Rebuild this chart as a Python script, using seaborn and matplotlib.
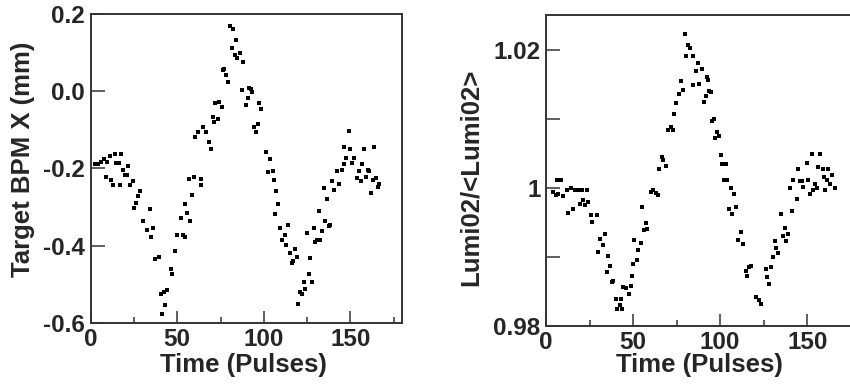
# BPM position and luminosity monitor vs time
import numpy as np
import pandas as pd
import matplotlib
matplotlib.use('Agg')
import matplotlib.pyplot as plt
from matplotlib.ticker import MultipleLocator, FixedLocator, FixedFormatter
import seaborn as sns

# ---- data -----------------------------------------------------------------
bpm_time = [2.6, 4.2, 6.1, 7.6, 9.0, 9.6, 10.9, 11.9, 12.8, 13.8, 14.8, 16.1,
            16.7, 17.7, 18.6, 20.0, 21.1, 21.5, 22.5, 24.4, 25.0, 26.4, 27.3,
            28.3, 30.2, 32.7, 34.1, 35.0, 36.0, 37.0, 39.3, 40.4, 41.2, 42.4,
            43.2, 43.9, 46.2, 47.0, 48.9, 49.7, 52.0, 53.4, 54.3, 54.7, 55.7,
            56.9, 57.6, 58.8, 59.8, 60.5, 61.7, 63.6, 64.0, 64.6, 66.5, 68.2,
            69.6, 70.4, 71.3, 71.7, 73.3, 74.4, 75.6, 76.2, 77.1, 78.3, 79.1,
            80.2, 81.4, 82.1, 83.3, 84.1, 84.8, 86.2, 87.2, 87.9, 89.6, 90.9,
            91.5, 92.5, 93.3, 94.4, 95.6, 96.7, 97.5, 98.5, 101.5, 102.5,
            103.3, 105.4, 105.9, 106.4, 107.1, 108.3, 109.5, 110.4, 112.2,
            113.1, 114.1, 115.1, 116.0, 117.0, 118.0, 118.9, 119.9, 120.9,
            121.9, 123.0, 123.9, 124.9, 125.9, 126.8, 128.0, 128.8, 129.7,
            130.7, 131.7, 132.6, 133.6, 134.6, 135.6, 136.5, 137.5, 138.4,
            139.4, 140.3, 142.3, 143.4, 145.2, 146.1, 146.3, 147.3, 149.4,
            150.0, 151.2, 152.3, 154.0, 155.0, 156.0, 156.9, 158.1, 159.1,
            160.0, 161.0, 162.0, 162.9, 163.9, 164.9, 165.8, 166.8]
bpm_x = [-0.188, -0.188, -0.184, -0.175, -0.223, -0.184, -0.167, -0.229,
         -0.242, -0.162, -0.186, -0.187, -0.244, -0.162, -0.203, -0.216,
         -0.218, -0.193, -0.244, -0.233, -0.303, -0.289, -0.272, -0.259,
         -0.336, -0.358, -0.306, -0.377, -0.354, -0.435, -0.429, -0.524,
         -0.576, -0.520, -0.554, -0.515, -0.459, -0.474, -0.414, -0.372,
         -0.328, -0.373, -0.378, -0.293, -0.315, -0.227, -0.336, -0.268,
         -0.223, -0.119, -0.106, -0.227, -0.244, -0.093, -0.106, -0.132,
         -0.149, -0.067, -0.080, -0.031, -0.071, -0.027, -0.041, 0.055,
         0.058, 0.041, 0.025, 0.169, 0.113, 0.160, 0.094, 0.133, 0.086,
         0.098, 0.003, 0.076, -0.035, -0.018, 0.009, 0.005, -0.001, -0.093,
         -0.105, -0.085, -0.031, -0.045, -0.158, -0.210, -0.175, -0.207,
         -0.231, -0.319, -0.259, -0.293, -0.354, -0.385, -0.372, -0.397,
         -0.346, -0.419, -0.444, -0.440, -0.409, -0.428, -0.550, -0.520,
         -0.524, -0.494, -0.511, -0.367, -0.472, -0.432, -0.494, -0.354,
         -0.389, -0.385, -0.311, -0.385, -0.363, -0.250, -0.337, -0.280,
         -0.350, -0.346, -0.233, -0.255, -0.207, -0.241, -0.203, -0.188,
         -0.145, -0.172, -0.102, -0.150, -0.186, -0.172, -0.225, -0.207,
         -0.232, -0.188, -0.150, -0.223, -0.203, -0.207, -0.263, -0.229,
         -0.145, -0.225, -0.249, -0.240]

lumi_time = [4.0, 5.6, 6.1, 7.1, 8.6, 10.0, 11.9, 12.8, 14.4, 15.7, 16.6,
             18.6, 19.5, 20.5, 21.4, 22.4, 23.3, 24.3, 25.6, 26.6, 29.1,
             30.0, 31.0, 32.9, 33.9, 34.8, 35.8, 36.7, 37.7, 38.7, 40.0,
             41.0, 42.5, 43.1, 43.8, 44.4, 45.7, 47.7, 48.6, 49.2, 50.1,
             50.6, 52.2, 52.6, 54.5, 55.3, 56.3, 57.2, 57.8, 60.3, 61.6,
             63.2, 64.4, 65.1, 66.5, 67.2, 68.7, 70.2, 71.8, 73.1, 73.7,
             74.6, 76.6, 77.5, 78.8, 79.8, 80.4, 81.3, 82.5, 84.4, 84.6,
             86.0, 87.3, 87.9, 89.8, 90.8, 91.7, 92.7, 93.1, 93.6, 94.6,
             95.5, 96.5, 96.9, 98.0, 99.4, 100.3, 101.3, 102.2, 103.2,
             104.2, 105.1, 106.1, 107.0, 108.0, 109.0, 110.5, 111.8, 113.1,
             114.7, 115.6, 116.6, 117.5, 120.4, 122.3, 123.3, 126.2, 127.0,
             127.8, 129.0, 130.4, 131.3, 132.3, 133.2, 135.2, 136.1, 137.3,
             138.0, 139.0, 139.9, 141.1, 142.0, 144.0, 144.9, 145.9, 146.8,
             147.8, 149.7, 150.7, 151.6, 152.6, 153.5, 154.5, 155.4, 156.4,
             157.4, 159.3, 159.8, 160.2, 161.2, 162.1, 163.1, 164.1, 166.0]
lumi_ratio = [0.99935, 0.99899, 1.00116, 0.99913, 1.00116, 0.99875, 0.99961,
              0.99639, 0.99995, 0.99697, 0.99961, 0.99961, 0.99769, 0.99961,
              0.99827, 0.99745, 0.99961, 0.99793, 0.99600, 0.99504, 0.99600,
              0.99071, 0.99254, 0.99167, 0.99336, 0.98772, 0.99013, 0.98869,
              0.98637, 0.98652, 0.98382, 0.98243, 0.98300, 0.98382, 0.98243,
              0.98565, 0.98541, 0.98459, 0.98575, 0.98724, 0.98893, 0.99239,
              0.98950, 0.99095, 0.99206, 0.99721, 0.99384, 0.99494, 0.99408,
              0.99940, 0.99960, 0.99930, 0.99890, 1.00274, 1.00440, 1.00400,
              1.00313, 1.00840, 1.00880, 1.00840, 1.01060, 1.01230, 1.01360,
              1.01550, 1.01410, 1.02230, 1.01900, 1.02070, 1.02020, 1.01900,
              1.01480, 1.01690, 1.01800, 1.01500, 1.01720, 1.01240, 1.01320,
              1.01600, 1.01560, 1.01400, 1.01380, 1.00960, 1.01000, 1.00720,
              1.00800, 1.00750, 1.00480, 1.00340, 1.00110, 1.00340, 1.00110,
              0.99690, 0.99990, 0.99620, 0.99910, 0.99720, 0.99240, 0.99360,
              0.99180, 0.98800, 0.98720, 0.98850, 0.98870, 0.98420, 0.98370,
              0.98310, 0.98820, 0.98700, 0.98600, 0.98850, 0.98990, 0.99230,
              0.99120, 0.99060, 0.99620, 0.99300, 0.99420, 0.99230, 0.99330,
              0.99990, 0.99660, 1.00110, 0.99840, 1.00270, 1.00100, 1.00100,
              1.00010, 1.00350, 1.00110, 0.99910, 1.00490, 0.99960, 1.00060,
              0.99990, 1.00300, 1.00490, 1.00270, 1.00160, 0.99960, 1.00110,
              1.00270, 1.00060, 1.00180, 0.99990]

# ---- style -------------------------------------------------------------------
sns.set_style('ticks')
plt.rcParams['font.family'] = ['Liberation Sans', 'DejaVu Sans']
plt.rcParams['font.weight'] = 'bold'
EDGE = '#333333'

fig = plt.figure(figsize=(8.5, 3.85), dpi=100)
ax1 = fig.add_axes([90.7 / 850, 1 - 323 / 385, 311.6 / 850, 309 / 385])
ax2 = fig.add_axes([546 / 850, 1 - 325.8 / 385, 313.5 / 850, 310.8 / 385])


def style_axes(ax):
    for s in ax.spines.values():
        s.set_linewidth(1.4)
        s.set_color(EDGE)
    ax.xaxis.set_major_locator(MultipleLocator(50))
    ax.xaxis.set_minor_locator(MultipleLocator(25))
    ax.tick_params(axis='x', which='major', direction='in', length=8.6,
                   width=1.1, color=EDGE, labelsize=17.5, pad=3.5)
    ax.tick_params(axis='x', which='minor', direction='in', length=4.3,
                   width=1.1, color=EDGE)
    ax.tick_params(axis='y', which='both', direction='in', length=10,
                   width=1.1, color=EDGE, labelsize=17.5, pad=4)
    ax.set_xlim(0, 180)


df_bpm = pd.DataFrame({'time': bpm_time, 'bpm': bpm_x})
df_lumi = pd.DataFrame({'time': lumi_time, 'lumi': lumi_ratio})

sns.scatterplot(data=df_bpm, x='time', y='bpm', ax=ax1, marker='s', s=5,
                color='black', linewidth=0)
sns.scatterplot(data=df_lumi, x='time', y='lumi', ax=ax2, marker='s', s=5,
                color='black', linewidth=0)

for ax in (ax1, ax2):
    style_axes(ax)

# left panel
ax1.set_ylim(-0.6, 0.2)
ax1.yaxis.set_major_locator(FixedLocator([-0.6, -0.4, -0.2, 0.0, 0.2]))
ax1.yaxis.set_major_formatter(FixedFormatter(['-0.6', '-0.4', '-0.2', '0.0', '0.2']))
ax1.set_xlabel('Time (Pulses)', fontsize=18.5, fontweight='bold', va='center')
ax1.set_ylabel('Target BPM X (mm)', fontsize=18.5, fontweight='bold', va='center')
ax1.xaxis.set_label_coords(0.49, -0.136)
ax1.yaxis.set_label_coords(-0.217, 0.53)

# right panel
ax2.set_ylim(0.98, 1.025)
ax2.yaxis.set_major_locator(FixedLocator([0.98, 1.0, 1.02]))
ax2.yaxis.set_major_formatter(FixedFormatter(['0.98', '1', '1.02']))
ax2.yaxis.set_minor_locator(FixedLocator([0.99, 1.01]))
ax2.set_xlabel('Time (Pulses)', fontsize=18.5, fontweight='bold', va='center')
ax2.set_ylabel('Lumi02/<Lumi02>', fontsize=18.5, fontweight='bold', va='center')
ax2.xaxis.set_label_coords(0.49, -0.126)
ax2.yaxis.set_label_coords(-0.239, 0.477)

fig.savefig('out.png', dpi=100)
